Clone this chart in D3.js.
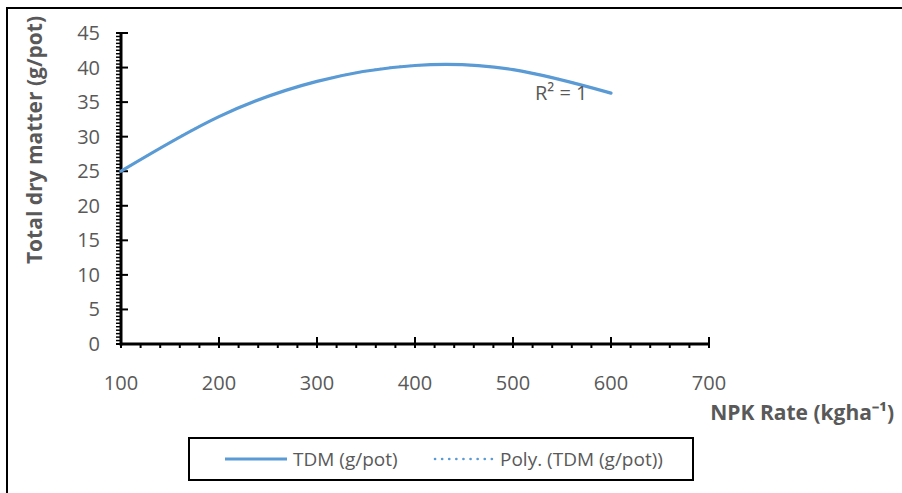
<!DOCTYPE html>
<html>
<head>
<meta charset="utf-8">
<script src="https://cdn.jsdelivr.net/npm/d3@7"></script>
<style>
  html, body { margin: 0; padding: 0; background: #fff; }
  svg { display: block; }
  text { font-family: "Open Sans", "Liberation Sans", sans-serif; fill: #595959; }
</style>
</head>
<body>
<svg id="chart" width="902" height="493"></svg>
<script>
// ---- data ----
const npkRates = [100, 200, 300, 400, 500, 600];
const tdmValues = [25.0, 32.9, 38.0, 40.3, 39.7, 36.3];
const xTicks = [100, 200, 300, 400, 500, 600, 700];
const yTicks = [0, 5, 10, 15, 20, 25, 30, 35, 40, 45];
const seriesName = "TDM (g/pot)";
const trendName = "Poly. (TDM (g/pot))";
const xTitle = "NPK Rate (kgha\u207B\u00B9)";
const yTitle = "Total dry matter (g/pot)";
const r2Label = "R\u00B2 = 1";

const data = npkRates.map((x, i) => ({ x, y: tdmValues[i] }));

const svg = d3.select("#chart");
const color = "#5B9BD5";

// outer frame
svg.append("rect").attr("x", 7).attr("y", 8).attr("width", 910).attr("height", 500)
  .attr("fill", "none").attr("stroke", "#000").attr("stroke-width", 2);

const x = d3.scaleLinear().domain([100, 700]).range([121, 709]);
const y = d3.scaleLinear().domain([0, 45]).range([344, 33]);

// minor ticks (outside)
const g = svg.append("g");
const xMinor = d3.range(100, 701, 20);
g.selectAll(".xminor").data(xMinor).join("line")
  .attr("x1", d => x(d)).attr("x2", d => x(d))
  .attr("y1", y(0)).attr("y2", y(0) + 4)
  .attr("stroke", "#000").attr("stroke-width", 2);
const yMinor = d3.range(0, 45.01, 0.5);
g.selectAll(".yminor").data(yMinor).join("line")
  .attr("x1", x(100) - 5).attr("x2", x(100))
  .attr("y1", d => y(d)).attr("y2", d => y(d))
  .attr("stroke", "#000").attr("stroke-width", 1.5);

// major ticks (cross)
g.selectAll(".xmajor").data(xTicks).join("line")
  .attr("x1", d => x(d)).attr("x2", d => x(d))
  .attr("y1", y(0) - 7).attr("y2", y(0) + 4)
  .attr("stroke", "#000").attr("stroke-width", 2);
g.selectAll(".ymajor").data(yTicks).join("line")
  .attr("x1", x(100) - 5).attr("x2", x(100) + 7)
  .attr("y1", d => y(d)).attr("y2", d => y(d))
  .attr("stroke", "#000").attr("stroke-width", 2);

// axis lines
g.append("line").attr("x1", x(100)).attr("x2", x(700)).attr("y1", y(0)).attr("y2", y(0))
  .attr("stroke", "#000").attr("stroke-width", 3);
g.append("line").attr("x1", x(100)).attr("x2", x(100)).attr("y1", y(0) + 1.5).attr("y2", y(45))
  .attr("stroke", "#000").attr("stroke-width", 3);

// tick labels
g.selectAll(".xlab").data(xTicks).join("text")
  .attr("x", d => x(d)).attr("y", 390)
  .attr("text-anchor", "middle").attr("font-size", 20).text(d => d);
g.selectAll(".ylab").data(yTicks).join("text")
  .attr("x", 100).attr("y", d => y(d) + 7)
  .attr("text-anchor", "end").attr("font-size", 20).text(d => d);

// axis titles
svg.append("text").attr("transform", "translate(42,140) rotate(-90)")
  .attr("text-anchor", "middle").attr("font-size", 21).attr("font-weight", "bold").text(yTitle);
svg.append("text").attr("x", 894).attr("y", 420)
  .attr("text-anchor", "end").attr("font-size", 21).attr("font-weight", "bold").text(xTitle);

// series
const line = d3.line().x(d => x(d.x)).y(d => y(d.y)).curve(d3.curveNatural);
svg.append("path").datum(data).attr("d", line)
  .attr("fill", "none").attr("stroke", color).attr("stroke-width", 2).attr("stroke-dasharray", "2,3");
svg.append("path").datum(data).attr("d", line)
  .attr("fill", "none").attr("stroke", color).attr("stroke-width", 3.2).attr("stroke-linecap", "round");

// R2 label
svg.append("text").attr("x", 535).attr("y", 100).attr("font-size", 20).text(r2Label);

// legend
const lg = svg.append("g");
lg.append("rect").attr("x", 189).attr("y", 438).attr("width", 504).attr("height", 42)
  .attr("fill", "#fff").attr("stroke", "#000").attr("stroke-width", 2);
lg.append("line").attr("x1", 225).attr("x2", 287).attr("y1", 459).attr("y2", 459)
  .attr("stroke", color).attr("stroke-width", 3.2);
lg.append("text").attr("x", 293).attr("y", 466).attr("font-size", 19).text(seriesName);
lg.append("line").attr("x1", 435).attr("x2", 492).attr("y1", 459).attr("y2", 459)
  .attr("stroke", color).attr("stroke-width", 2.6).attr("stroke-linecap", "round")
  .attr("stroke-dasharray", "0.1,7");
lg.append("text").attr("x", 500).attr("y", 466).attr("font-size", 19).text(trendName);
</script>
</body>
</html>
